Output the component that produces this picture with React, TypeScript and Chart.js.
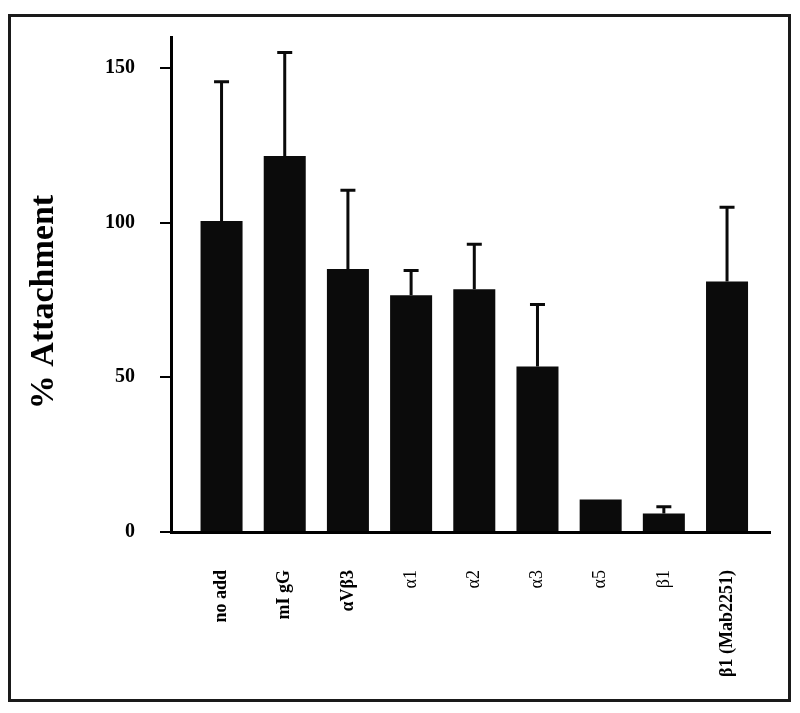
import React, { useEffect, useRef } from 'react';
import { Chart, registerables } from 'chart.js';

Chart.register(...registerables);

const categories = ['no add', 'mI gG', 'αVβ3', 'α1', 'α2', 'α3', 'α5', 'β1', 'β1 (Mab2251)'];
const attachment = [100.5, 121.5, 85, 76.5, 78.5, 53.5, 10.5, 6, 81];
const errorUp = [45, 33.5, 25.5, 8, 14.5, 20, 0, 2.2, 24];
const yTicks = [0, 50, 100, 150];
const yTitle = '% Attachment';

const SERIF = "'Liberation Serif', 'Times New Roman', serif";

const framePlugin = {
  id: 'frame',
  beforeDraw(chart: any) {
    const ctx = chart.ctx;
    ctx.save();
    ctx.fillStyle = '#ffffff';
    ctx.fillRect(0, 0, chart.width, chart.height);
    ctx.strokeStyle = '#1a1a1a';
    ctx.lineWidth = 3;
    ctx.strokeRect(9.5, 15.5, 780, 685);
    ctx.restore();
  },
};

const errorBarPlugin = {
  id: 'errorBars',
  afterDatasetsDraw(chart: any) {
    const ctx = chart.ctx;
    const yScale = chart.scales.y;
    const meta = chart.getDatasetMeta(0);
    ctx.save();
    ctx.strokeStyle = '#0a0a0a';
    ctx.lineWidth = 3;
    meta.data.forEach((bar: any, i: number) => {
      const e = errorUp[i];
      if (!e) return;
      const yTop = yScale.getPixelForValue(attachment[i] + e);
      ctx.beginPath();
      ctx.moveTo(bar.x, bar.y);
      ctx.lineTo(bar.x, yTop);
      ctx.moveTo(bar.x - 7.5, yTop);
      ctx.lineTo(bar.x + 7.5, yTop);
      ctx.stroke();
    });
    ctx.restore();
  },
};

const yTitlePlugin = {
  id: 'yTitle',
  afterDraw(chart: any) {
    const ctx = chart.ctx;
    ctx.save();
    ctx.translate(53, 302);
    ctx.rotate(-Math.PI / 2);
    ctx.font = `bold 34px ${SERIF}`;
    ctx.fillStyle = '#000';
    ctx.textAlign = 'center';
    ctx.textBaseline = 'alphabetic';
    ctx.fillText(yTitle, 0, 0);
    ctx.restore();
  },
};

export default function App() {
  const ref = useRef<HTMLCanvasElement>(null);
  useEffect(() => {
    if (!ref.current) return;
    const chart = new Chart(ref.current, {
      type: 'bar',
      data: {
        datasets: [
          {
            data: categories.map((_, i) => ({ x: i, y: attachment[i] })),
            backgroundColor: '#0b0b0b',
            borderWidth: 0,
            barPercentage: 0.665,
            categoryPercentage: 1,
          },
        ],
      },
      options: {
        responsive: false,
        animation: false,
        layout: { padding: { top: 32, right: 30, left: 0, bottom: 0 } },
        plugins: { legend: { display: false }, tooltip: { enabled: false } },
        scales: {
          x: {
            type: 'linear',
            offset: false,
            min: -0.8,
            max: 8.68,
            afterFit: (s: any) => {
              s.height = 181;
            },
            afterBuildTicks: (s: any) => {
              s.ticks = categories.map((_, i) => ({ value: i }));
            },
            ticks: {
              autoSkip: false,
              minRotation: 90,
              maxRotation: 90,
              padding: 30,
              color: '#000',
              font: (ctx: any) => {
                const label = categories[ctx.index] || '';
                const plain = /^[αβ]\d$/.test(label);
                return { family: SERIF, size: 18, weight: plain ? 'normal' : 'bold' };
              },
              callback: (v: any) => categories[Math.round(Number(v))] ?? '',
            },
            grid: { display: false, offset: false },
            border: { display: true, color: '#000', width: 3 },
          },
          y: {
            min: 0,
            max: 160,
            afterFit: (s: any) => {
              s.width = 171;
            },
            afterBuildTicks: (s: any) => {
              s.ticks = yTicks.map((v) => ({ value: v }));
            },
            ticks: {
              padding: 25,
              color: '#000',
              font: { family: SERIF, size: 20, weight: 'bold' },
            },
            grid: {
              drawOnChartArea: false,
              drawTicks: true,
              tickLength: 11,
              color: '#000',
              lineWidth: 2,
            },
            border: { display: true, color: '#000', width: 3 },
          },
        },
      } as any,
      plugins: [framePlugin, errorBarPlugin, yTitlePlugin],
    });
    return () => chart.destroy();
  }, []);
  return (
    <div style={{ position: 'absolute', left: 0, top: 0, width: 800, height: 713, background: '#fff' }}>
      <canvas ref={ref} width={800} height={713} style={{ width: 800, height: 713, display: 'block' }} />
    </div>
  );
}
